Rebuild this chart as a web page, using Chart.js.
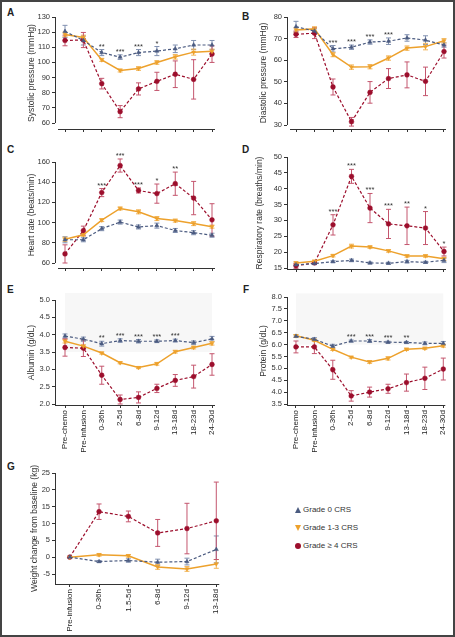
<!DOCTYPE html>
<html>
<head>
<meta charset="utf-8">
<script src="https://cdn.jsdelivr.net/npm/chart.js@4.4.0/dist/chart.umd.min.js"></script>
<style>
  html, body { margin: 0; padding: 0; background: #fff; }
  #fig { position: relative; width: 455px; height: 637px; overflow: hidden; font-family: 'Liberation Sans', Arial, sans-serif; color: #222; }
  #fig canvas { position: absolute; }
  .frame { position: absolute; left: 0; top: 0; width: 455px; height: 637px; box-sizing: border-box; border: 2px solid #444; pointer-events: none; }
  .letter { position: absolute; font-weight: bold; font-size: 10px; line-height: 10px; }
  .leg { position: absolute; font-size: 8px; line-height: 10px; color: #333; white-space: nowrap; }
  .mk { position: absolute; left: -8px; top: 2px; }
</style>
</head>
<body>
<div id="fig">
  <div class="letter" style="left:7px; top:8px">A</div>
  <div class="letter" style="left:242px; top:12px">B</div>
  <div class="letter" style="left:7px; top:145px">C</div>
  <div class="letter" style="left:242px; top:145px">D</div>
  <div class="letter" style="left:7px; top:285px">E</div>
  <div class="letter" style="left:243px; top:285px">F</div>
  <div class="letter" style="left:7px; top:462px">G</div>

  <div class="leg" style="left:303px; top:505px"><span class="mk" style="width:0;height:0;border-left:3px solid transparent;border-right:3px solid transparent;border-bottom:6px solid #4b5b80"></span>Grade 0 CRS</div>
  <div class="leg" style="left:303px; top:523px"><span class="mk" style="width:0;height:0;border-left:3px solid transparent;border-right:3px solid transparent;border-top:6px solid #eda12c"></span>Grade 1-3 CRS</div>
  <div class="leg" style="left:303px; top:541px"><span class="mk" style="width:6px;height:6px;border-radius:50%;background:#9c0e2c"></span>Grade ≥ 4 CRS</div>
  <div class="frame"></div>
</div>
<script>
// time points
const categories = ['Pre-chemo', 'Pre-infusion', '0-36h', '2-5d', '6-8d', '9-12d', '13-18d', '18-23d', '24-30d'];
const weightCategories = ['Pre-infusion', '0-36h', '1.5-5d', '6-8d', '9-12d', '13-18d'];

// A - systolic pressure
const sysG0 = [120.5, 114.5, 106.5, 103.5, 106.5, 107.5, 109, 111.5, 111.5];
const sysG0Err = [4, 3, 2, 1.5, 2, 3, 2.5, 3, 3];
const sysG13 = [118.5, 116.5, 101.7, 94.7, 96, 100, 103.7, 106.8, 107.3];
const sysG13Err = [1.5, 1.5, 1, 1, 1.2, 1.2, 1.5, 2, 1.5];
const sysG4 = [114.5, 114.8, 86, 67.5, 82.5, 87.5, 92.2, 88.8, 105.5];
const sysG4Err = [3.5, 5, 3.5, 4, 4, 6, 8.8, 13, 5.5];
const starsA = ['', '', '**', '***', '***', '*', '', '', ''];
const ticksA = [60, 70, 80, 90, 100, 110, 120, 130];

// B - diastolic pressure
const diaG0 = [75.5, 73.5, 65.3, 66, 68.4, 68.8, 70.3, 69.3, 67];
const diaG0Err = [2.5, 1, 1.5, 1, 1, 1.5, 1.5, 2, 1];
const diaG13 = [74, 74.5, 62.6, 56.8, 57, 61, 65.6, 66.3, 69];
const diaG13Err = [1, 1, 1, 1, 1, 1, 1, 1.5, 1];
const diaG4 = [72, 72.5, 47.6, 31.5, 45.1, 51.5, 53.2, 50.2, 64];
const diaG4Err = [1.5, 2.5, 3.7, 2, 5, 4.6, 6, 6.6, 3];
const starsB = ['', '', '***', '***', '***', '***', '', '', ''];
const ticksB = [30, 40, 50, 60, 70, 80];

// C - heart rate
const hrG0 = [83, 83, 94, 100.5, 95.7, 97, 92.2, 90, 87.5];
const hrG0Err = [3, 2, 2, 2, 2, 2.5, 2, 2, 2];
const hrG13 = [83.5, 88, 102.5, 114, 110.7, 104, 102, 99, 96];
const hrG13Err = [2, 1.5, 1.5, 1.5, 2, 2, 1.5, 2, 1.5];
const hrG4 = [69, 92, 129.7, 156.5, 131.8, 128.7, 138.5, 124.3, 102.7];
const hrG4Err = [9, 4.5, 4, 6.5, 2.5, 9.5, 11.5, 16.5, 16];
const starsC = ['', '', '***', '***', '***', '*', '**', '', ''];
const ticksC = [60, 80, 100, 120, 140, 160];

// D - respiratory rate
const rrG0 = [16, 16.4, 17, 17.4, 16.6, 16.5, 17, 16.8, 17.4];
const rrG0Err = [0.3, 0.3, 0.3, 0.4, 0.3, 0.3, 0.4, 0.3, 0.7];
const rrG13 = [16.6, 17.1, 18.9, 21.9, 21.6, 20.4, 18.8, 18.8, 17.9];
const rrG13Err = [0.4, 0.4, 0.4, 0.6, 0.4, 0.4, 0.4, 0.4, 0.5];
const rrG4 = [15.7, 16.6, 28.6, 43.9, 33.9, 28.9, 28.3, 27.6, 20.2];
const rrG4Err = [0.8, 0.4, 3.2, 2.2, 4.6, 4.6, 5.9, 5.2, 1.4];
const starsD = ['', '', '***', '***', '***', '***', '**', '*', '*'];
const ticksD = [15, 20, 25, 30, 35, 40, 45, 50];

// E - albumin
const albG0 = [3.96, 3.87, 3.74, 3.83, 3.81, 3.81, 3.83, 3.77, 3.88];
const albG0Err = [0.06, 0.06, 0.07, 0.05, 0.05, 0.04, 0.04, 0.05, 0.07];
const albG13 = [3.81, 3.67, 3.47, 3.19, 3.05, 3.16, 3.51, 3.63, 3.75];
const albG13Err = [0.05, 0.04, 0.03, 0.03, 0.03, 0.04, 0.04, 0.04, 0.05];
const albG4 = [3.63, 3.61, 2.83, 2.13, 2.19, 2.45, 2.68, 2.79, 3.14];
const albG4Err = [0.25, 0.24, 0.26, 0.13, 0.16, 0.12, 0.17, 0.33, 0.31];
const starsE = ['', '', '**', '***', '***', '***', '***', '', ''];
const ticksE = [2.0, 2.5, 3.0, 3.5, 4.0, 4.5, 5.0];
const normalE = [3.5, 5.2];

// F - protein
const proG0 = [6.35, 6.22, 5.93, 6.15, 6.15, 6.1, 6.09, 6.05, 6.05];
const proG0Err = [0.05, 0.07, 0.08, 0.04, 0.06, 0.04, 0.04, 0.06, 0.08];
const proG13 = [6.37, 6.18, 5.8, 5.47, 5.27, 5.42, 5.8, 5.84, 5.95];
const proG13Err = [0.05, 0.05, 0.05, 0.04, 0.06, 0.07, 0.05, 0.05, 0.06];
const proG4 = [5.9, 5.9, 4.94, 3.84, 4.0, 4.14, 4.4, 4.58, 4.97];
const proG4Err = [0.25, 0.28, 0.4, 0.22, 0.21, 0.19, 0.36, 0.47, 0.46];
const starsF = ['', '', '', '***', '***', '***', '**', '', ''];
const ticksF = [3.5, 4.0, 4.5, 5.0, 5.5, 6.0, 6.5, 7.0, 7.5, 8.0];
const normalF = [6.0, 8.15];

// G - weight change
const wtG0 = [0, -1.3, -1.0, -1.5, -1.3, 2.3];
const wtG0Err = [0, 0.3, 0.5, 0.9, 1.0, 4];
const wtG13 = [0, 0.7, 0.4, -2.9, -3.5, -2.0];
const wtG13Err = [0, 0.4, 0.4, 0.7, 0.7, 1.3];
const wtG4 = [0, 13.5, 12.1, 7.2, 8.5, 10.8];
const wtG4Err = [0, 2.3, 1.6, 4, 7.5, 11.5];
const ticksG = [-5, 0, 5, 10, 15, 20, 25];

const STYLE = {
    g0: { color: '#4b5b80', err: '#8090b0', point: 'triangle', rot: 0, dash: [3, 2], width: 1.2 },
    g13: { color: '#eda12c', err: '#f2b456', point: 'triangle', rot: 180, dash: [], width: 1.5 },
    g4: { color: '#9c0e2c', err: '#c4566e', point: 'circle', rot: 0, dash: [3, 2], width: 1.2 }
};

Chart.defaults.font.family = "'Liberation Sans', Arial, sans-serif";
Chart.defaults.color = '#333';

// band, axis lines, error bars and significance stars
const panelDecor = {
    id: 'panelDecor',
    beforeDatasetsDraw(chart, args, opts) {
        const { ctx, chartArea: a, scales: { x, y } } = chart;
        ctx.save();
        if (opts.band) {
            const x0 = x.getPixelForValue(0), x1 = x.getPixelForValue(opts.n - 1);
            const y0 = y.getPixelForValue(opts.band[1]), y1 = y.getPixelForValue(opts.band[0]);
            ctx.fillStyle = '#f7f7f7';
            ctx.fillRect(x0, y0, x1 - x0, y1 - y0);
        }
        ctx.strokeStyle = '#333';
        ctx.lineWidth = 1;
        const yTop = y.getPixelForValue(opts.ticks[opts.ticks.length - 1]);
        const yBot = opts.detached ? y.getPixelForValue(opts.ticks[0]) : a.bottom;
        ctx.beginPath();
        ctx.moveTo(Math.round(a.left) + 0.5, yTop);
        ctx.lineTo(Math.round(a.left) + 0.5, yBot);
        ctx.moveTo(opts.detached ? a.left + 3 : a.left, Math.round(a.bottom) + 0.5);
        ctx.lineTo(a.right, Math.round(a.bottom) + 0.5);
        ctx.stroke();

        // error bars
        chart.data.datasets.forEach(ds => {
            ctx.strokeStyle = ds.errColor;
            ctx.lineWidth = 1;
            ds.data.forEach((pt, i) => {
                const e = ds.errors[i];
                if (!e) return;
                const px = x.getPixelForValue(pt.x);
                const hi = y.getPixelForValue(pt.y + e), lo = y.getPixelForValue(pt.y - e);
                ctx.beginPath();
                ctx.moveTo(px, hi); ctx.lineTo(px, lo);
                ctx.moveTo(px - 2.5, hi); ctx.lineTo(px + 2.5, hi);
                ctx.moveTo(px - 2.5, lo); ctx.lineTo(px + 2.5, lo);
                ctx.stroke();
            });
        });
        ctx.restore();
    },
    afterDatasetsDraw(chart, args, opts) {
        if (!opts.stars) return;
        const { ctx, scales: { x, y } } = chart;
        ctx.save();
        ctx.fillStyle = '#333';
        ctx.font = "7.5px 'Liberation Sans', Arial, sans-serif";
        ctx.textAlign = 'center';
        ctx.textBaseline = 'alphabetic';
        opts.stars.forEach((s, i) => {
            if (!s) return;
            let top = -Infinity;
            chart.data.datasets.forEach(ds => {
                top = Math.max(top, ds.data[i].y + (ds.errors[i] || 0));
            });
            ctx.fillText(s, x.getPixelForValue(i), y.getPixelForValue(top) - 1);
        });
        ctx.restore();
    }
};

function makeSeries(vals, errs, key) {
    const st = STYLE[key];
    return {
        data: vals.map((v, i) => ({ x: i, y: v })),
        errors: errs,
        errColor: st.err,
        borderColor: st.color,
        backgroundColor: st.color,
        borderWidth: st.width,
        borderDash: st.dash,
        pointStyle: st.point,
        pointRotation: st.rot,
        pointRadius: 2.4,
        pointBackgroundColor: st.color,
        pointBorderColor: st.color,
        pointBorderWidth: 0.5,
        tension: 0,
        clip: false
    };
}

function makePanel(p) {
    const [cl, ct, cw, ch] = p.canvas;
    const cv = document.createElement('canvas');
    cv.width = cw; cv.height = ch;
    cv.style.left = cl + 'px'; cv.style.top = ct + 'px';
    cv.style.width = cw + 'px'; cv.style.height = ch + 'px';
    document.getElementById('fig').insertBefore(cv, document.querySelector('.frame'));

    const cats = p.cats, n = cats.length;
    const tTop = p.ticks[p.ticks.length - 1], tBot = p.ticks[0];
    const ppu = (p.tickPix[1] - p.tickPix[0]) / (tTop - tBot);
    const yMax = tTop + (p.tickPix[0] - p.area.top) / ppu;
    const yMin = tBot - (p.area.bottom - p.tickPix[1]) / ppu;
    const step = (p.catPix[1] - p.catPix[0]) / (n - 1);
    const xMin = -(p.catPix[0] - p.area.left) / step;
    const xMax = (n - 1) + (p.area.right - p.catPix[1]) / step;

    const left = p.area.left - cl, right = p.area.right - cl;
    const top = p.area.top - ct, bottom = p.area.bottom - ct;

    new Chart(cv, {
        type: 'line',
        data: { datasets: p.series },
        options: {
            responsive: false,
            animation: false,
            events: [],
            layout: { padding: { left: 0, top: top, right: cw - right, bottom: 0 } },
            plugins: {
                legend: { display: false },
                tooltip: { enabled: false },
                panelDecor: { ticks: p.ticks, detached: p.detached, band: p.band, n: n, stars: p.stars }
            },
            scales: {
                x: {
                    type: 'linear',
                    min: xMin, max: xMax,
                    afterBuildTicks: s => { s.ticks = cats.map((c, i) => ({ value: i })); },
                    afterFit: s => { s.height = ch - bottom; },
                    grid: { drawOnChartArea: false, drawTicks: true, tickLength: 3, color: '#333' },
                    border: { display: false },
                    ticks: {
                        autoSkip: false,
                        minRotation: p.labels ? 90 : 0,
                        maxRotation: p.labels ? 90 : 0,
                        padding: 2,
                        font: { size: 8 },
                        color: '#222',
                        callback: v => p.labels ? cats[v] : ''
                    }
                },
                y: {
                    min: yMin, max: yMax,
                    afterBuildTicks: s => { s.ticks = p.ticks.map(v => ({ value: v })); },
                    afterFit: s => { s.width = left; },
                    grid: { drawOnChartArea: false, drawTicks: true, tickLength: 3, color: '#333' },
                    border: { display: false },
                    ticks: {
                        padding: 2,
                        font: { size: 7.5 },
                        color: '#333',
                        callback: v => v.toFixed(p.dec)
                    },
                    title: {
                        display: true,
                        text: p.title,
                        font: { size: 8.5 },
                        color: '#333',
                        padding: { top: p.titleOffset, bottom: 0 }
                    }
                }
            }
        },
        plugins: [panelDecor]
    });
}

makePanel({
    canvas: [0, 0, 225, 140], area: { left: 55, right: 215, top: 17, bottom: 129 },
    tickPix: [17, 123], catPix: [65, 212], cats: categories, ticks: ticksA, dec: 0,
    detached: true, labels: false, stars: starsA, title: 'Systolic pressure (mmHg)', titleOffset: 27,
    series: [makeSeries(sysG0, sysG0Err, 'g0'), makeSeries(sysG13, sysG13Err, 'g13'), makeSeries(sysG4, sysG4Err, 'g4')]
});
makePanel({
    canvas: [225, 0, 230, 140], area: { left: 287, right: 446, top: 17, bottom: 129 },
    tickPix: [17, 125], catPix: [296, 444], cats: categories, ticks: ticksB, dec: 0,
    detached: true, labels: false, stars: starsB, title: 'Diastolic pressure (mmHg)', titleOffset: 34,
    series: [makeSeries(diaG0, diaG0Err, 'g0'), makeSeries(diaG13, diaG13Err, 'g13'), makeSeries(diaG4, diaG4Err, 'g4')]
});
makePanel({
    canvas: [0, 140, 225, 140], area: { left: 55, right: 215, top: 162, bottom: 268 },
    tickPix: [162, 263], catPix: [65, 212], cats: categories, ticks: ticksC, dec: 0,
    detached: true, labels: false, stars: starsC, title: 'Heart rate (beats/min)', titleOffset: 27,
    series: [makeSeries(hrG0, hrG0Err, 'g0'), makeSeries(hrG13, hrG13Err, 'g13'), makeSeries(hrG4, hrG4Err, 'g4')]
});
makePanel({
    canvas: [225, 140, 230, 140], area: { left: 287, right: 446, top: 157, bottom: 269 },
    tickPix: [157, 268], catPix: [296, 444], cats: categories, ticks: ticksD, dec: 0,
    detached: false, labels: false, stars: starsD, title: 'Respiratory rate (breaths/min)', titleOffset: 30,
    series: [makeSeries(rrG0, rrG0Err, 'g0'), makeSeries(rrG13, rrG13Err, 'g13'), makeSeries(rrG4, rrG4Err, 'g4')]
});
makePanel({
    canvas: [0, 280, 225, 180], area: { left: 55, right: 215, top: 300, bottom: 405 },
    tickPix: [300, 404], catPix: [65, 212], cats: categories, ticks: ticksE, dec: 1,
    detached: false, labels: true, stars: starsE, band: normalE, title: 'Albumin (g/dL)', titleOffset: 27,
    series: [makeSeries(albG0, albG0Err, 'g0'), makeSeries(albG13, albG13Err, 'g13'), makeSeries(albG4, albG4Err, 'g4')]
});
makePanel({
    canvas: [225, 280, 230, 180], area: { left: 287, right: 446, top: 297, bottom: 405 },
    tickPix: [297, 404], catPix: [296, 444], cats: categories, ticks: ticksF, dec: 1,
    detached: false, labels: true, stars: starsF, band: normalF, title: 'Protein (g/dL)', titleOffset: 34,
    series: [makeSeries(proG0, proG0Err, 'g0'), makeSeries(proG13, proG13Err, 'g13'), makeSeries(proG4, proG4Err, 'g4')]
});
makePanel({
    canvas: [0, 460, 228, 175], area: { left: 55, right: 222, top: 473, bottom: 584 },
    tickPix: [473, 574], catPix: [70, 219], cats: weightCategories, ticks: ticksG, dec: 0,
    detached: false, labels: true, stars: null, title: 'Weight change from baseline (kg)', titleOffset: 30,
    series: [makeSeries(wtG0, wtG0Err, 'g0'), makeSeries(wtG13, wtG13Err, 'g13'), makeSeries(wtG4, wtG4Err, 'g4')]
});
</script>
</body>
</html>
